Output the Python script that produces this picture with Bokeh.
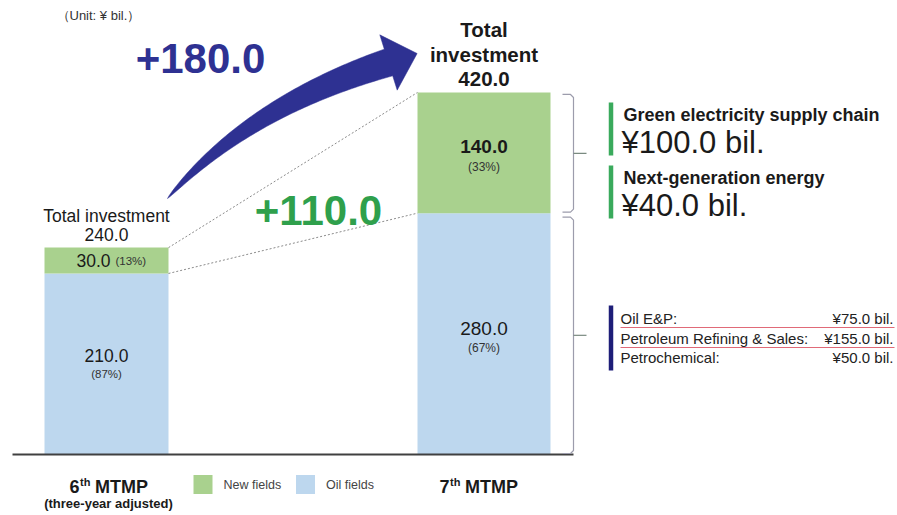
import numpy as np
from bokeh.plotting import figure
from bokeh.models import Range1d
from bokeh.core.properties import value
from bokeh.embed import file_html
from bokeh.resources import INLINE

# ---------------- data ----------------
plan_ordinals = ["6", "7"]
plan_suffix = ["th", "th"]
plan_names = ["MTMP", "MTMP"]
plan_notes = ["(three-year adjusted)", ""]
new_fields = [30.0, 140.0]
oil_fields = [210.0, 280.0]
new_share = ["(13%)", "(33%)"]
oil_share = ["(87%)", "(67%)"]
green_items = ["Green electricity supply chain", "Next-generation energy"]
green_values = [100.0, 40.0]
oil_items = ["Oil E&P:", "Petroleum Refining & Sales:", "Petrochemical:"]
oil_values = [75.0, 155.0, 50.0]
legend_labels = ["New fields", "Oil fields"]
unit_label = "（Unit: ¥ bil.）"
total_label = "Total investment"

totals = [a + b for a, b in zip(new_fields, oil_fields)]
inc_total = totals[1] - totals[0]
inc_new = new_fields[1] - new_fields[0]

# ---------------- layout ----------------
W, H = 895, 513
ORG = 0            # screen offset of the plot canvas
K = 0.862          # px per unit
BASE = 454         # screen y of zero line


def Y(sy):
    return (BASE - sy) / K


def D(px):
    return px / K


GREEN = "#A9D18E"
BLUE = "#BDD7EE"
FONT = "Liberation Sans"

p = figure(width=W, height=H, x_range=Range1d(ORG, ORG + W), y_range=Range1d(Y(ORG + H), Y(ORG)),
           output_backend="svg", toolbar_location=None, min_border=0,
           x_axis_type=None, y_axis_type=None, outline_line_color=None)
p.grid.visible = False
p.background_fill_color = "white"
p.border_fill_color = "white"


def txt(x, y, s, size, color="#1a1a1a", bold=False, align="center", baseline="middle"):
    p.text(x=[x], y=[y], text=[s], text_font=value(FONT), text_font_size=f"{size}px",
           text_font_style="bold" if bold else "normal", text_color=color,
           text_align=align, text_baseline=baseline)


centers = [106, 483.5]
widths = [124, 133]

# bars
p.vbar(x=centers, width=widths, bottom=0, top=oil_fields, fill_color=BLUE, line_color=None)
p.vbar(x=centers, width=widths, bottom=oil_fields, top=totals, fill_color=GREEN, line_color=None)

# axis line
p.segment(x0=[12], y0=[0], x1=[573], y1=[0], line_color="#404040", line_width=2)

# dotted connectors
x_r = centers[0] + widths[0] / 2
x_l = centers[1] - widths[1] / 2
p.segment(x0=[x_r, x_r], y0=[totals[0], oil_fields[0]], x1=[x_l, x_l], y1=[totals[1], oil_fields[1]],
          line_color="#8a8a8a", line_width=1, line_dash="2 2")

# curved arrow
P0 = np.array([167.0, 198.0])
P1 = np.array([248.0, 106.0])
P2 = np.array([388.0, 62.0])
t = np.linspace(0, 1, 80)[:, None]
C = (1 - t) ** 2 * P0 + 2 * (1 - t) * t * P1 + t ** 2 * P2
dC = 2 * (1 - t) * (P1 - P0) + 2 * t * (P2 - P1)
T = dC / np.linalg.norm(dC, axis=1)[:, None]
N = np.column_stack([T[:, 1], -T[:, 0]])
w = 28 * t[:, 0] ** 0.7
upper = C + N * (w / 2)[:, None]
lower = C - N * (w / 2)[:, None]
Te, Ne = T[-1], N[-1]
cu = P2 + Ne * 29
cl = P2 - Ne * 29
tip = P2 + Te * 30
poly = np.vstack([upper, cu, tip, cl, lower[::-1]])
p.patch(x=poly[:, 0], y=[Y(v) for v in poly[:, 1]], fill_color="#2E3192", line_color="#2E3192", line_width=0.5)

# increments
txt(200, Y(58), f"+{inc_total:.1f}", 42, color="#2E3192", bold=True)
txt(318, Y(210), f"+{inc_new:.1f}", 42, color="#2FA04C", bold=True)

# unit label
txt(56, Y(15), unit_label, 13, color="#333333", align="left")

# bar 1 labels
txt(centers[0], totals[0] + D(13), f"{totals[0]:.1f}", 17.5)
txt(centers[0], totals[0] + D(32), total_label, 17.5)
gmid0 = (totals[0] + oil_fields[0]) / 2
txt(centers[0] + 4, gmid0, f"{new_fields[0]:.1f}", 17.5, align="right")
txt(centers[0] + 9, gmid0, new_share[0], 11.5, color="#333333", align="left")
omid0 = oil_fields[0] / 2
txt(centers[0], omid0 + D(8), f"{oil_fields[0]:.1f}", 17.5)
txt(centers[0], omid0 - D(10), oil_share[0], 11.5, color="#333333")

# bar 2 labels
txt(centers[1], totals[1] + D(13), f"{totals[1]:.1f}", 20.5, bold=True)
txt(centers[1], totals[1] + D(38), "investment", 20.5, bold=True)
txt(centers[1], totals[1] + D(63), "Total", 20.5, bold=True)
gmid1 = (totals[1] + oil_fields[1]) / 2
txt(centers[1], gmid1 + D(6), f"{new_fields[1]:.1f}", 19, bold=True)
txt(centers[1], gmid1 - D(14), new_share[1], 12, color="#333333")
omid1 = oil_fields[1] / 2
txt(centers[1], omid1 + D(5), f"{oil_fields[1]:.1f}", 19)
txt(centers[1], omid1 - D(14), oil_share[1], 12, color="#333333")

# brackets
xv, xc, xn = 573, 562, 586


def bracket(top, bottom):
    mid = (top + bottom) / 2
    xs = [xc, xv - 3, xv, xv, xv - 3, xc]
    ys = [top, top, top - D(3), bottom + D(3), bottom, bottom]
    p.line(x=xs, y=ys, line_color="#9c9cac", line_width=1.2)
    p.line(x=[xv, xn], y=[mid, mid], line_color="#7a8a80", line_width=1.2)


bracket(totals[1] - D(2), oil_fields[1] + D(1))
bracket(oil_fields[1] - D(4), D(1))

# right panel: green items
g_tops = [102, 165]
for i, (name, v) in enumerate(zip(green_items, green_values)):
    y0 = g_tops[i]
    p.segment(x0=[610.5], y0=[Y(y0)], x1=[610.5], y1=[Y(y0 + 53)], line_color="#3AAA5C", line_width=4.5)
    txt(623, Y(y0 + 12), name, 18, bold=True, align="left")
    txt(621, Y(y0 + 40), f"¥{v:.1f} bil.", 31, align="left")

# right panel: oil items
p.segment(x0=[610.5], y0=[Y(305)], x1=[610.5], y1=[Y(370)], line_color="#1E1E78", line_width=4.5)
row_y = [318, 338, 357]
for i, (name, v) in enumerate(zip(oil_items, oil_values)):
    txt(620, Y(row_y[i]), name, 15, color="#222222", align="left")
    txt(893, Y(row_y[i]), f"¥{v:.1f} bil.", 15, color="#222222", align="right")
    if i < len(oil_items) - 1:
        p.segment(x0=[620], y0=[Y(row_y[i] + 9)], x1=[894], y1=[Y(row_y[i] + 9)],
                  line_color="#E06A78", line_width=1)

# legend
leg_x = [202.5, 305]
leg_colors = [GREEN, BLUE]
for lx, lc, lab in zip(leg_x, leg_colors, legend_labels):
    p.rect(x=[lx], y=[Y(484)], width=19, height=D(19), fill_color=lc, line_color=None)
    txt(lx + 20.5, Y(484), lab, 12.5, color="#444444", align="left")

# category labels
label_cx = [108, 478]
for i in range(2):
    s = label_cx[i] - 39
    txt(s, Y(486), plan_ordinals[i], 18, bold=True, align="left")
    txt(s + 10.5, Y(481), plan_suffix[i], 11, bold=True, align="left")
    txt(s + 25.5, Y(486), plan_names[i], 18, bold=True, align="left")
    if plan_notes[i]:
        txt(label_cx[i], Y(503), plan_notes[i], 13, bold=True)

open("out.html", "w").write(file_html(p, INLINE))
